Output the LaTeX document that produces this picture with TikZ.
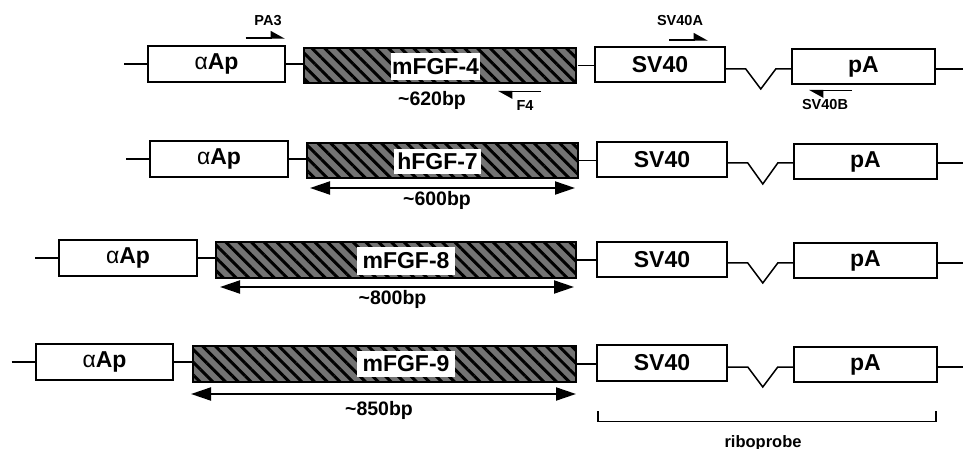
\documentclass[tikz,border=0pt]{standalone}
\usepackage{fontspec}
\setmainfont{Liberation Sans}
\usetikzlibrary{arrows.meta,patterns.meta}
\begin{document}
\begin{tikzpicture}[x=1pt,y=-1pt,
  box/.style={draw, line width=1.6pt, inner sep=0pt, font=\bfseries\fontsize{23}{23}\selectfont},
  gene/.style={draw, line width=1.8pt, inner sep=0pt, preaction={fill=black!55},
    pattern={Lines[angle=-45,distance=9pt,line width=3pt]}, pattern color=black},
  glabel/.style={fill=white, inner sep=0pt, font=\bfseries\fontsize{23}{23}\selectfont},
  link/.style={line width=1.5pt},
  dimarrow/.style={line width=2pt, {Triangle[length=20pt,width=13pt]}-{Triangle[length=20pt,width=13pt]}},
  primer/.style={line width=1.5pt, -{Triangle[harpoon,length=13pt,width=14pt]}},
  primerlabel/.style={inner sep=0pt, font=\bfseries\fontsize{14.5}{14.5}\selectfont},
  bplabel/.style={inner sep=0pt, font=\bfseries\fontsize{19.5}{19.5}\selectfont}]
\useasboundingbox (0,0) rectangle (970,449);

% ---------- Row 1 ----------
\coordinate (s1) at (124,64);
\node[box, minimum width=137, minimum height=36] (p1) at (216.5,64) {{\mdseries α}Ap};
\node[gene, minimum width=272, minimum height=35] (g1) at (440,65.5) {};
\node[glabel, minimum width=89, minimum height=27] (n1) at (435.5,66.5) {mFGF-4};
\node[box, minimum width=130, minimum height=35] (v1) at (660,64.5) {SV40};
\node[box, minimum width=143, minimum height=35] (a1) at (863.5,66.5) {pA};
\coordinate (e1) at (963,69);
\draw[link] (s1) -- (p1.west);
\draw[link] (p1.east) -- (p1.east -| g1.west);
\draw[link] (g1.east) -- (g1.east -| v1.west);
\draw[link] (v1.east |- e1) -- ++(20,0) -- ++(15,20) -- ++(15,-20) -- (a1.west |- e1);
\draw[link] (a1.east |- e1) -- (e1);
\coordinate (pa3a) at (245.7,38); \coordinate (pa3b) at (285,38);
\draw[primer] (pa3a) -- (pa3b);
\node[primerlabel] (pa3) at (268,21) {PA3};
\coordinate (f4a) at (541,91.7); \coordinate (f4b) at (498,91.7);
\draw[primer] (f4a) -- (f4b);
\node[primerlabel] (f4) at (525,106) {F4};
\coordinate (sva) at (669,40); \coordinate (svb) at (708,40);
\draw[primer] (sva) -- (svb);
\node[primerlabel] (sv40a) at (680,20.5) {SV40A};
\coordinate (sbb) at (852,90.7); \coordinate (sba) at (809,90.7);
\draw[primer] (sbb) -- (sba);
\node[primerlabel] (sv40b) at (825,105) {SV40B};
\node[bplabel] (bp1) at (432,100.5) {\textasciitilde620bp};

% ---------- Row 2 ----------
\coordinate (s2) at (126,159);
\node[box, minimum width=138, minimum height=36] (p2) at (219,159) {{\mdseries α}Ap};
\node[gene, minimum width=271, minimum height=35] (g2) at (442.5,160.5) {};
\node[glabel, minimum width=87, minimum height=25] (n2) at (437.5,161.5) {hFGF-7};
\node[box, minimum width=130, minimum height=35] (v2) at (662,159.5) {SV40};
\node[box, minimum width=143, minimum height=35] (a2) at (865.5,161.5) {pA};
\coordinate (e2) at (963,163);
\draw[link] (s2) -- (p2.west);
\draw[link] (p2.east) -- (p2.east -| g2.west);
\draw[link] (g2.east) -- (g2.east -| v2.west);
\draw[link] (v2.east |- e2) -- ++(20,0) -- ++(15,21) -- ++(15,-21) -- (a2.west |- e2);
\draw[link] (a2.east |- e2) -- (e2);
\coordinate (d2a) at (310,188); \coordinate (d2b) at (575,188);
\draw[dimarrow] (d2a) -- (d2b);
\node[bplabel] (bp2) at (437,200) {\textasciitilde600bp};

% ---------- Row 3 ----------
\coordinate (s3) at (35,258);
\node[box, minimum width=138, minimum height=36] (p3) at (128,258) {{\mdseries α}Ap};
\node[gene, minimum width=360, minimum height=36] (g3) at (396,260) {};
\node[glabel, minimum width=98, minimum height=28] (n3) at (406,261) {mFGF-8};
\node[box, minimum width=130, minimum height=35] (v3) at (662,259.5) {SV40};
\node[box, minimum width=143, minimum height=35] (a3) at (865.5,260.5) {pA};
\coordinate (e3) at (963,263);
\draw[link] (s3) -- (p3.west);
\draw[link] (p3.east) -- (p3.east -| g3.west);
\draw[link] (g3.east) -- (g3.east -| v3.west);
\draw[link] (v3.east |- e3) -- ++(20,0) -- ++(15,20) -- ++(15,-20) -- (a3.west |- e3);
\draw[link] (a3.east |- e3) -- (e3);
\coordinate (d3a) at (220,287); \coordinate (d3b) at (574,287);
\draw[dimarrow] (d3a) -- (d3b);
\node[bplabel] (bp3) at (392.5,299) {\textasciitilde800bp};

% ---------- Row 4 ----------
\coordinate (s4) at (11.5,362);
\node[box, minimum width=137, minimum height=36] (p4) at (104.5,362) {{\mdseries α}Ap};
\node[gene, minimum width=383, minimum height=36] (g4) at (384.5,364) {};
\node[glabel, minimum width=98, minimum height=26] (n4) at (406,364) {mFGF-9};
\node[box, minimum width=130, minimum height=36] (v4) at (662,363) {SV40};
\node[box, minimum width=143, minimum height=35] (a4) at (865.5,364.5) {pA};
\coordinate (e4) at (963,367);
\draw[link] (s4) -- (p4.west);
\draw[link] (p4.east) -- (p4.east -| g4.west);
\draw[link] (g4.east) -- (g4.east -| v4.west);
\draw[link] (v4.east |- e4) -- ++(20,0) -- ++(15,20) -- ++(15,-20) -- (a4.west |- e4);
\draw[link] (a4.east |- e4) -- (e4);
\coordinate (d4a) at (191,394); \coordinate (d4b) at (576,394);
\draw[dimarrow] (d4a) -- (d4b);
\node[bplabel] (bp4) at (379,410) {\textasciitilde850bp};

% ---------- riboprobe bracket ----------
\coordinate (r1) at (598,411); \coordinate (r2) at (598,421.7);
\coordinate (r3) at (936,421.7); \coordinate (r4) at (936,411);
\draw[line width=1.3pt] (r1) -- (r2) -- (r3) -- (r4);
\node[inner sep=0pt, font=\bfseries\fontsize{16.5}{16.5}\selectfont] (ribo) at (763,443) {riboprobe};
\end{tikzpicture}
\end{document}
